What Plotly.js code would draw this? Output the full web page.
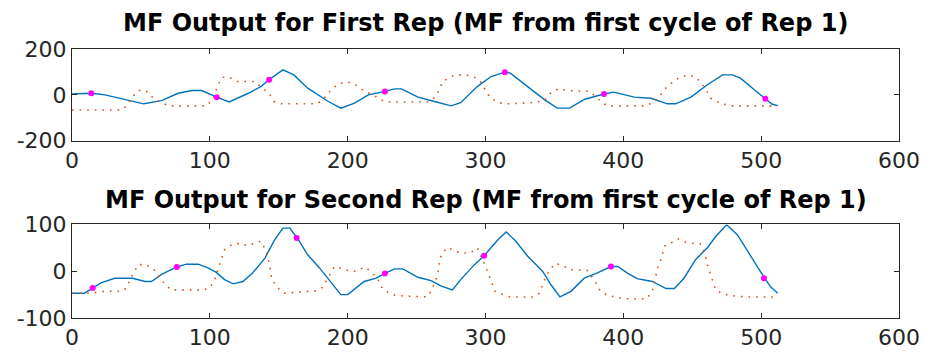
<!DOCTYPE html>
<html>
<head>
<meta charset="utf-8">
<script src="https://cdn.plot.ly/plotly-3.0.1.min.js"></script>
<style>html,body{margin:0;padding:0;background:#fff;}#chart{width:927px;height:356px;}</style>
</head>
<body>
<div id="chart"></div>
<script>
// ---- Data ----
const topBlueX = [0,14,24,41,52,65,77,87,94,105,114,128,137,143,153,161,171,186,195,205,215,227,234,239,251,263,275,282,294,304,314,318,331,343,352,361,372,386,393,408,420,432,438,449,461,472,479,485,495,503,508,512];
const topBlueY = [4,7,0,-22,-39,-25,7,19,19,-10,-31,7,36,66,109,87,29,-29,-58,-36,0,15,26,26,-10,-29,-48,-34,36,80,99,95,36,-22,-58,-58,-19,4,12,-10,-15,-39,-39,-10,44,87,87,73,22,-17,-41,-47];

const topOrangeX = [0,36,39.5,43,48,53.5,57.6,64,70,97.5,102,106,109,114,120,132.5,138,143,146.5,152,178,183,187.5,193,199,205,210,216,221,227,259,264,266.5,269,275,280,286,292,297.5,300,304,309.5,315,332,342.6,347.5,352.7,358,364,374.5,380,383.7,388.5,416,422,427,430,435.6,441,447,452.5,456.7,460.5,463.4,467.8,473,479,512];
const topOrangeY = [-66,-66,-48,-15,19,19,-7,-31,-48,-48,-22,44,77,77,58,58,29,7,-29,-39,-39,-15,19,47,58,47,25,7,-10,-31,-31,-7,25,58,80,87,87,77,51,17,-15,-34,-39,-35,-26,10,26,22,17,17,-7,-29,-48,-48,-31,0,25,54,77,87,77,51,17,-15,-29,-41,-48,-48];

const topMarkX = [14,105,143,227,314,386,503];
const topMarkY = [7,-10,66,15,99,4,-17];

const botBlueX = [0,9,15,21,31,44,53,57.6,65,76,83,91.5,98.7,104.7,110.7,117,124,131,140,147,153,158,163.4,171,179.6,188,195,200,203,208.5,212,220.7,226.7,234,240,251,260.5,268,276,282,292,299,309,315,322,330.6,341.4,347.5,354,362,371.6,380,391,396,403,410,421,431,437,444,452.5,461,467,475,482.7,491,497,502.5,507,512];
const botBlueY = [-47,-47,-36,-25,-15,-15,-22,-22,-7,9,15,15,7,-2.5,-18,-27,-22,-4,28,67,92,92,71,35,7,-25,-50,-50,-43,-32,-22,-15,-5,5,5,-13,-20,-32,-40,-18,14,33,67,84,64,32,0,-29,-55,-43,-15,-5,10,10,-4,-16,-22,-37,-37,-15,25,50,74,99,78,39,10,-15,-34,-47];

const botOrangeX = [0,13,24,36,39.5,42,45,48,53.5,59,63.6,67,72,95,100,103.5,107,110.7,117,121.6,128,132.5,137,141,143.3,145,149.4,154,177,182,185.6,189,190.4,196.5,202,206,212.7,218,222,225,230,235,257.6,260.5,263,265,266,266.5,269,272.6,278,283.5,289,294,300,305,307,312.5,318,335,339,342.6,346,350.6,356,362,369,373.6,377,380.6,383,388.5,394.6,400,417,421,423.5,424.8,427,429,430,435.6,439.7,445,451,455.7,458.6,461,463,465.4,467,472,477.4,488.8,512];
const botOrangeY = [-47,-47,-43,-43,-36,-18,-2.5,14,14,5,-11,-27,-40,-40,-36,-18,14,46,59,59,54,60,64,42,14,-18,-36,-47,-42,-34,-15,3,10,5,0,0,9,-4,-18,-36,-47,-52,-55,-43,-27,-11,7,23,40,51,42,39,39,50,10,-27,-43,-50,-55,-55,-47,-20,0,17,12,3,2,2,-11,-27,-41,-52,-55,-59,-59,-43,-11,7,22,40,54,62,69,62,59,59,42,14,-5,-24,-40,-48,-52,-55,-55];

const botMarkX = [15,76,163,227,299,391,502];
const botMarkY = [-36,9,71,-5,33,10,-15];

const xTicks = [0,100,200,300,400,500,600];
const topYTicks = [-200,0,200];
const botYTicks = [-100,0,100];
const titles = ['MF Output for First Rep (MF from first cycle of Rep 1)', 'MF Output for Second Rep (MF from first cycle of Rep 1)'];

// ---- Styling ----
const BLUE = '#0072BD', ORANGE = '#D95319', MAG = '#FF00FF', AX = '#262626';
const FONT = 'DejaVu Sans, Liberation Sans, Arial, sans-serif';

function lineTrace(x, y, xa, ya, color, dash, w) {
  return {x: x, y: y, xaxis: xa, yaxis: ya, type: 'scatter', mode: 'lines',
    line: {color: color, width: w, dash: dash}, hoverinfo: 'skip', showlegend: false};
}
function markTrace(x, y, xa, ya) {
  return {x: x, y: y, xaxis: xa, yaxis: ya, type: 'scatter', mode: 'markers',
    marker: {color: MAG, size: 6}, hoverinfo: 'skip', showlegend: false};
}

const data = [
  lineTrace(topBlueX, topBlueY, 'x', 'y', BLUE, 'solid', 1.4),
  lineTrace(topOrangeX, topOrangeY, 'x', 'y', ORANGE, '1.6px,6px', 1.6),
  markTrace(topMarkX, topMarkY, 'x', 'y'),
  lineTrace(botBlueX, botBlueY, 'x2', 'y2', BLUE, 'solid', 1.4),
  lineTrace(botOrangeX, botOrangeY, 'x2', 'y2', ORANGE, '1.6px,6px', 1.6),
  markTrace(botMarkX, botMarkY, 'x2', 'y2')
];

function xax(anchor) {
  return {anchor: anchor, domain: [0, 1], range: [0, 600], tickvals: xTicks, ticktext: xTicks.map(String),
    ticks: 'inside', ticklen: 5, tickcolor: AX, tickwidth: 1, showline: true, linecolor: AX, linewidth: 1,
    mirror: 'ticks', showgrid: false, zeroline: false, tickfont: {family: FONT, size: 22, color: AX}};
}
function yax(anchor, dom, rng, tv) {
  return {anchor: anchor, domain: dom, range: rng, tickvals: tv, ticktext: tv.map(String),
    ticks: 'inside', ticklen: 5, tickcolor: AX, tickwidth: 1, showline: true, linecolor: AX, linewidth: 1,
    mirror: 'ticks', showgrid: false, zeroline: false, tickfont: {family: FONT, size: 22, color: AX}};
}

const layout = {
  width: 927, height: 356,
  margin: {l: 71.5, r: 28, t: 49.3, b: 37.7},
  paper_bgcolor: '#fff', plot_bgcolor: '#fff',
  showlegend: false,
  xaxis: xax('y'),
  yaxis: yax('x', [0.659, 1], [-200, 200], topYTicks),
  xaxis2: xax('y2'),
  yaxis2: yax('x2', [0, 0.348], [-100, 100], botYTicks),
  annotations: [
    {text: '<b>' + titles[0] + '</b>', xref: 'paper', yref: 'paper', x: 0.5, y: 1.095, xanchor: 'center', yanchor: 'middle',
     showarrow: false, font: {family: FONT, size: 24, color: '#000'}},
    {text: '<b>' + titles[1] + '</b>', xref: 'paper', yref: 'paper', x: 0.5, y: 0.44, xanchor: 'center', yanchor: 'middle',
     showarrow: false, font: {family: FONT, size: 24, color: '#000'}}
  ]
};

Plotly.newPlot('chart', data, layout, {staticPlot: true, displayModeBar: false});
</script>
</body>
</html>
